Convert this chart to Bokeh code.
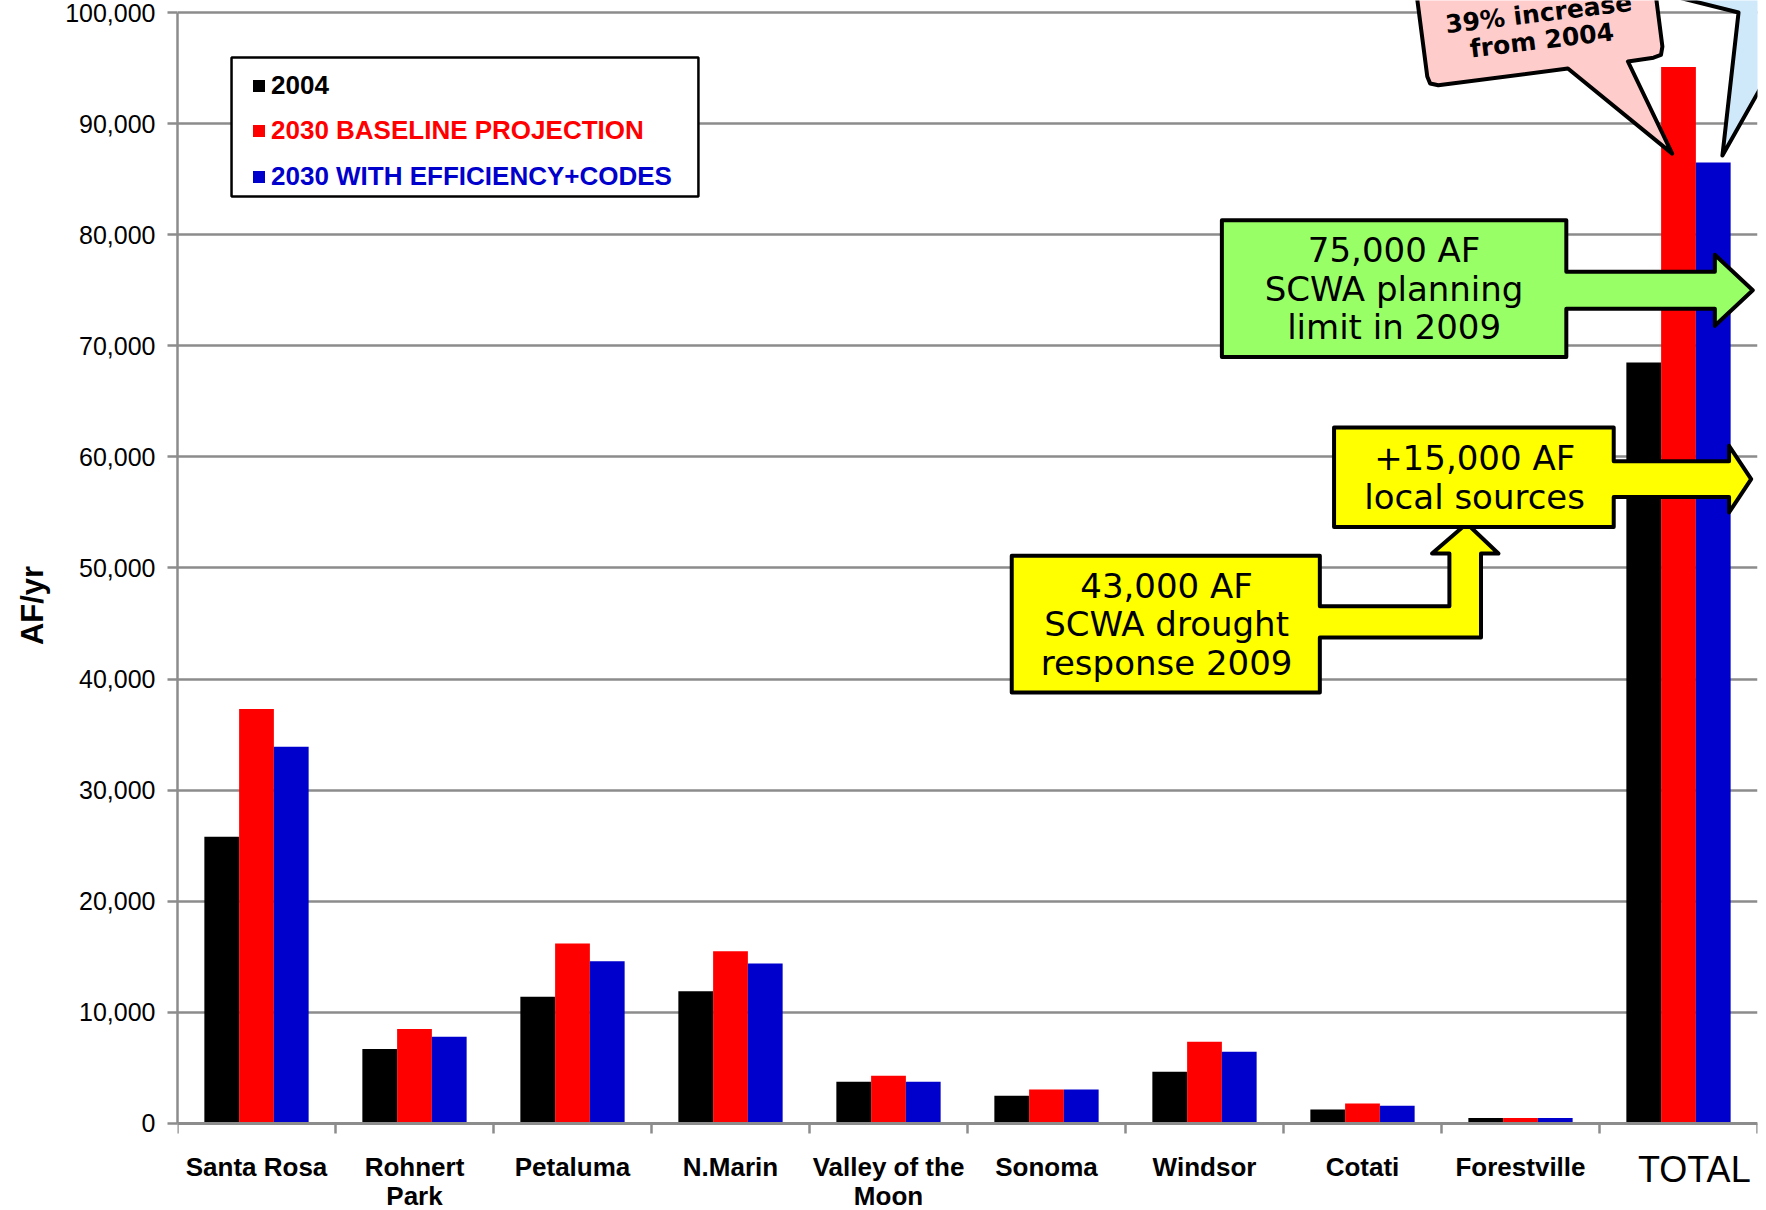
import math

from bokeh.plotting import figure
from bokeh.core.properties import value
from bokeh.models import (ColumnDataSource, Range1d, FixedTicker, NumeralTickFormatter,
                          Legend, LegendItem, Label, PolyAnnotation, BoxAnnotation, Span, Title)
from bokeh.transform import dodge
from bokeh.embed import file_html
from bokeh.resources import INLINE

# ---- water demand by agency, acre-feet per year ----
categories = ["Santa Rosa", "Rohnert Park", "Petaluma", "N.Marin", "Valley of the Moon",
              "Sonoma", "Windsor", "Cotati", "Forestville", "TOTAL"]
tick_labels = ["Santa Rosa", "Rohnert\nPark", "Petaluma", "N.Marin", "Valley of the\nMoon",
               "Sonoma", "Windsor", "Cotati", "Forestville", "TOTAL"]
use_2004 = [25800, 6700, 11400, 11900, 3750, 2500, 4650, 1250, 500, 68500]
baseline_2030 = [37300, 8500, 16200, 15500, 4300, 3050, 7350, 1800, 500, 95100]
efficiency_2030 = [33900, 7800, 14600, 14400, 3750, 3050, 6450, 1600, 500, 86500]
series_names = ["2004", "2030 BASELINE PROJECTION", "2030 WITH EFFICIENCY+CODES"]
series_colors = ["#000000", "#ff0000", "#0000cc"]
y_ticks = [0, 10000, 20000, 30000, 40000, 50000, 60000, 70000, 80000, 90000, 100000]

GRID = "#8c8c8c"
ARIAL = "Liberation Sans"
VERDANA = "DejaVu Sans"

n = len(categories)
# each category occupies one unit on the x axis; its centre is at i + 0.5
centers = [i + 0.5 for i in range(n)]
boundaries = [float(i) for i in range(n + 1)]

source = ColumnDataSource(dict(cat=categories, pos=centers, y2004=use_2004,
                               base=baseline_2030, eff=efficiency_2030))

# the frame runs below zero so the category names sit inside it
p = figure(frame_width=1580, frame_height=1210,
           x_range=Range1d(0, n), y_range=Range1d(-7831, 101080),
           x_axis_location=None, output_backend="svg", toolbar_location=None,
           min_border_left=177, min_border_right=9, min_border_top=0, min_border_bottom=0)
p.outline_line_color = None
p.background_fill_color = "white"
p.border_fill_color = "white"
p.xgrid.visible = False

# ---- bars ----
bar_w = 0.22
fields = ["y2004", "base", "eff"]
offsets = [-bar_w, 0.0, bar_w]
renderers = []
for f, off, col in zip(fields, offsets, series_colors):
    r = p.vbar(x=dodge("pos", off), top=f, width=bar_w, source=source,
               fill_color=col, line_color=None)
    renderers.append(r)

# ---- y axis ----
ya = p.yaxis[0]
ya.ticker = FixedTicker(ticks=y_ticks)
ya.formatter = NumeralTickFormatter(format="0,0")
ya.bounds = (0, 100000)
ya.axis_line_color = GRID
ya.axis_line_width = 2.5
ya.major_tick_line_color = GRID
ya.major_tick_line_width = 2.5
ya.major_tick_out = 10
ya.major_tick_in = 0
ya.minor_tick_line_color = None
ya.major_label_text_font = ARIAL
ya.major_label_text_font_size = "25px"
ya.major_label_text_color = "black"
ya.major_label_standoff = 12

for g in p.ygrid:
    g.grid_line_color = GRID
    g.grid_line_width = 2.5

p.add_layout(Title(text="AF/yr", align="center", offset=-23, standoff=25,
                   text_font=ARIAL, text_font_style="bold", text_font_size="31px",
                   text_color="black"), "left")

# ---- category axis: base line, ticks between categories, names below ----
p.add_layout(Span(location=0, dimension="width", line_color=GRID, line_width=3))
p.segment(x0=boundaries, y0=[0] * len(boundaries), x1=boundaries,
          y1=[-900] * len(boundaries), line_color=GRID, line_width=2.5)

p.text(x=centers[:-1], y=[-2610] * (n - 1), text=tick_labels[:-1],
       text_font=value(ARIAL), text_font_style="bold", text_font_size=value("26px"),
       text_color="black", text_align="center", text_baseline="top", text_line_height=0.95)
p.text(x=[centers[-1] + 0.1], y=[-4140], text=tick_labels[-1:],
       text_font=value(ARIAL), text_font_size=value("36px"),
       text_color="black", text_align="center", text_baseline="middle")

# ---- legend: framed box with one coloured entry per series ----
p.add_layout(BoxAnnotation(left=0.342, right=3.297, top=95950, bottom=83440,
                           fill_color="white", fill_alpha=1.0, line_color="black",
                           line_alpha=1.0, line_width=2.5))
legend_rows = [1109, 1064, 1018]
for r, name, col, vy in zip(renderers, series_names, series_colors, legend_rows):
    leg = Legend(items=[LegendItem(label=name, renderers=[r])], location=(74, vy),
                 glyph_width=15, glyph_height=15, label_standoff=5, label_height=30,
                 padding=0, margin=0, spacing=0,
                 border_line_alpha=0, background_fill_alpha=0,
                 label_text_font=ARIAL, label_text_font_style="bold",
                 label_text_font_size="26px", label_text_color=col)
    p.add_layout(leg)

# ---- callouts (x in category units, y in AF/yr) ----
def callout(xs, ys, fill):
    p.add_layout(PolyAnnotation(xs=xs, ys=ys, xs_units="data", ys_units="data",
                                fill_color=fill, fill_alpha=1.0,
                                line_color="black", line_alpha=1.0, line_width=4,
                                line_join="round"))

def note(x, y, text, size, bold=False, angle=0.0, line_height=0.96):
    p.add_layout(Label(x=x, y=y, text=text, angle=angle,
                       text_font=VERDANA, text_font_style="bold" if bold else "normal",
                       text_font_size=size, text_color="black", text_align="center",
                       text_baseline="middle", text_line_height=line_height))

# drought response box with elbow arrow up to the local sources box
callout([5.28, 7.23, 7.23, 8.05, 8.05, 7.94, 8.16, 8.36, 8.25, 8.25, 7.23, 7.23, 5.28],
        [51100, 51100, 46550, 46550, 51300, 51300, 54000, 51300, 51300, 43750, 43750, 38800, 38800],
        "#ffff00")
note(6.26, 44950, "43,000 AF\nSCWA drought\nresponse 2009", "34px")

# local sources box, arrow at 58,000
callout([7.32, 9.09, 9.09, 9.82, 9.82, 9.96, 9.82, 9.82, 9.09, 9.09, 7.32],
        [62650, 62650, 59600, 59600, 61000, 58000, 55000, 56400, 56400, 53700, 53700],
        "#ffff00")
note(8.21, 58150, "+15,000 AF\nlocal sources", "34px")

# planning limit box, arrow at 75,000
callout([6.61, 8.79, 8.79, 9.73, 9.73, 9.97, 9.73, 9.73, 8.79, 8.79, 6.61],
        [81300, 81300, 76670, 76670, 78200, 75000, 71800, 73330, 73330, 69000, 69000],
        "#99ff66")
note(7.70, 75150, "75,000 AF\nSCWA planning\nlimit in 2009", "34px")

# tilted speech bubble over the baseline total
callout([7.84, 7.910, 7.928, 7.980, 8.80, 9.46, 9.18, 9.342, 9.389, 9.398, 9.33],
        [101900, 94230, 93610, 93450, 94960, 87300, 95590, 95930, 96175, 96930, 104500],
        "#ffcccc")
note(8.625, 98700, "39% increase\nfrom 2004", "25px", bold=True, angle=0.12, line_height=0.93)

# second speech bubble pointing at the efficiency total
callout([9.323, 9.880, 9.778, 10.238, 10.589, 10.589, 9.323],
        [101980, 100000, 87130, 98720, 97460, 110080, 110080],
        "#cfe9fb")

open("out.html", "w").write(file_html(p, INLINE))
